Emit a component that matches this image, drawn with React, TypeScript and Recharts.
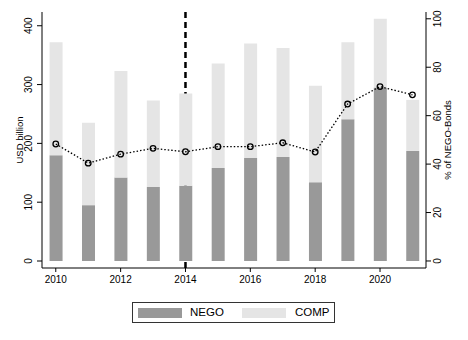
import React from 'react';
import { ComposedChart, Bar, Line, XAxis, YAxis, ReferenceLine, Label } from 'recharts';

const years = [2010, 2011, 2012, 2013, 2014, 2015, 2016, 2017, 2018, 2019, 2020, 2021];
const nego = [180, 95, 142, 126, 128, 158, 175, 177, 134, 241, 295, 187];
const comp = [192, 140, 181, 147, 157, 178, 195, 185, 164, 131, 117, 87];
const share = [48.3, 40.4, 44.1, 46.5, 45.1, 47.2, 47.2, 48.8, 45.0, 64.8, 72.0, 68.6];
const xTicks = [2010, 2012, 2014, 2016, 2018, 2020];
const leftTicks = [0, 100, 200, 300, 400];
const rightTicks = [0, 20, 40, 60, 80, 100];
const markerYear = 2014;

const data = years.map((y, i) => ({ year: y, NEGO: nego[i], COMP: comp[i], share: share[i] }));

const FONT = '"Liberation Sans", Arial, Helvetica, sans-serif';
const NEGO_COLOR = '#999999';
const COMP_COLOR = '#e5e5e5';

const LeftTick = (props: any) => {
  const { y, payload } = props;
  return (
    <text transform={`translate(32, ${y}) rotate(-90)`} textAnchor="middle" fontSize={10} fontFamily={FONT} fill="#000">
      {payload.value}
    </text>
  );
};

const RightTick = (props: any) => {
  const { y, payload } = props;
  return (
    <text transform={`translate(441, ${y}) rotate(-90)`} textAnchor="middle" fontSize={10} fontFamily={FONT} fill="#000">
      {payload.value}
    </text>
  );
};

const Dot = (props: any) => {
  const { cx, cy, index } = props;
  return <circle key={index} cx={cx} cy={cy} r={2.8} fill="none" stroke="#000" strokeWidth={1.3} />;
};

export default function App() {
  return (
    <div style={{ position: 'absolute', left: 0, top: 0, width: 468, height: 340, background: '#fff' }}>
      <ComposedChart width={468} height={340} data={data} margin={{ top: 12, right: 0, bottom: 0, left: 0 }}>
        <ReferenceLine
          x={markerYear}
          yAxisId="left"
          stroke="#000"
          strokeWidth={2.5}
          strokeDasharray="6 4"
          zIndex={-10}
          ifOverflow="extendDomain"
        />
        <XAxis
          dataKey="year"
          type="number"
          domain={[2009.575, 2021.418]}
          allowDataOverflow
          ticks={xTicks}
          height={72}
          tickSize={4}
          tickMargin={4}
          stroke="#000"
          tick={{ fontSize: 10, fontFamily: FONT, fill: '#000' }}
          axisLine={{ stroke: '#000' }}
          tickLine={{ stroke: '#000' }}
        />
        <XAxis
          xAxisId="top"
          orientation="top"
          type="number"
          domain={[2009.575, 2021.418]}
          allowDataOverflow
          height={0}
          tick={false}
          tickLine={false}
          axisLine={{ stroke: '#555' }}
        />
        <YAxis
          yAxisId="left"
          orientation="left"
          width={42}
          domain={[-11.9, 423.4]}
          allowDataOverflow
          ticks={leftTicks}
          tickSize={5}
          tick={<LeftTick />}
          axisLine={{ stroke: '#000' }}
          tickLine={{ stroke: '#000' }}
        >
          <Label
            content={() => (
              <text transform="translate(22.5, 140) rotate(-90)" textAnchor="middle" fontSize={9.5} fontFamily={FONT} fill="#000">
                USD billion
              </text>
            )}
          />
        </YAxis>
        <YAxis
          yAxisId="right"
          orientation="right"
          width={42}
          domain={[-2.9, 102.8]}
          allowDataOverflow
          ticks={rightTicks}
          tickSize={5}
          tick={<RightTick />}
          axisLine={{ stroke: '#000' }}
          tickLine={{ stroke: '#000' }}
        >
          <Label
            content={() => (
              <text transform="translate(451, 140) rotate(-90)" textAnchor="middle" fontSize={9.5} fontFamily={FONT} fill="#000">
                % of NEGO-Bonds
              </text>
            )}
          />
        </YAxis>
        <Bar yAxisId="left" dataKey="NEGO" stackId="a" fill={NEGO_COLOR} barSize={13} isAnimationActive={false} />
        <Bar yAxisId="left" dataKey="COMP" stackId="a" fill={COMP_COLOR} barSize={13} isAnimationActive={false} />
        <Line
          yAxisId="right"
          dataKey="share"
          stroke="#000"
          strokeWidth={1.3}
          strokeDasharray="1.5 2"
          dot={<Dot />}
          activeDot={false}
          isAnimationActive={false}
        />
      </ComposedChart>
      <div
        style={{
          position: 'absolute',
          left: 132,
          top: 302,
          width: 203,
          height: 21,
          border: '1px solid #333',
          boxSizing: 'border-box',
          fontFamily: FONT,
          fontSize: 11.5,
          color: '#000',
        }}
      >
        <div style={{ position: 'absolute', left: 5, top: 5, width: 44, height: 10, background: NEGO_COLOR }} />
        <div style={{ position: 'absolute', left: 57, top: 2, lineHeight: '15px' }}>NEGO</div>
        <div style={{ position: 'absolute', left: 109, top: 5, width: 44, height: 10, background: COMP_COLOR }} />
        <div style={{ position: 'absolute', left: 162, top: 2, lineHeight: '15px' }}>COMP</div>
      </div>
    </div>
  );
}
